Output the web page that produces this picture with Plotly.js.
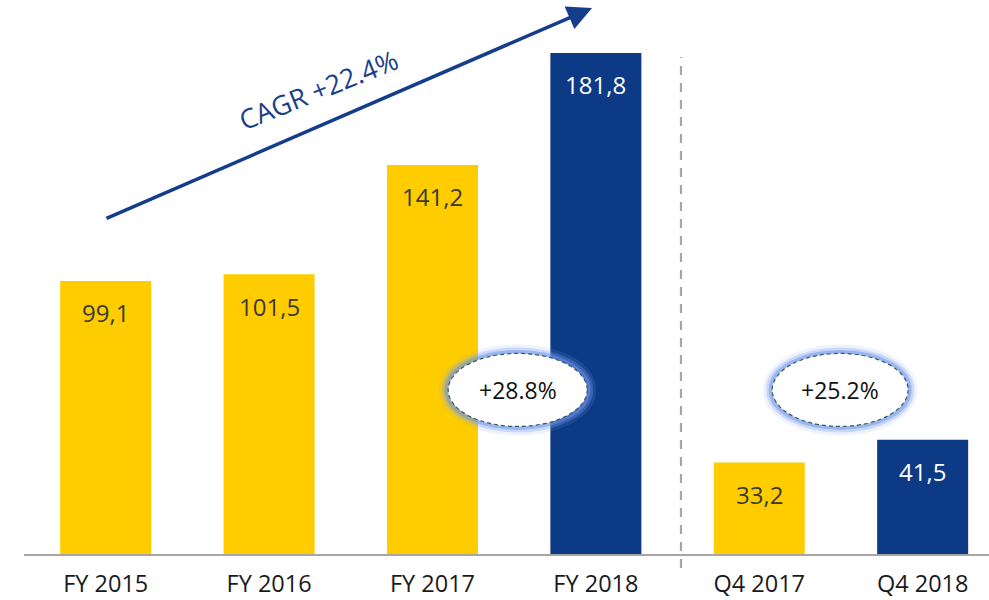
<!DOCTYPE html>
<html><head><meta charset="utf-8">
<script src="https://cdn.plot.ly/plotly-3.0.1.min.js"></script>
<style>html,body{margin:0;padding:0;background:#fff}#chart{width:989px;height:600px}</style>
</head><body><div id="chart"></div>
<script>
const categories = ["FY 2015","FY 2016","FY 2017","FY 2018","Q4 2017","Q4 2018"];
const values = [99.1, 101.5, 141.2, 181.8, 33.2, 41.5];
const valueLabels = ["99,1","101,5","141,2","181,8","33,2","41,5"];
const highlight = [false, false, false, true, false, true];
const growthLabels = ["+28.8%", "+25.2%"];
const cagrLabel = "CAGR +22.4%";

const YELLOW = "#FFCC00", BLUE = "#0D3A85";
const colors = highlight.map(h => h ? BLUE : YELLOW);
const xIdx = categories.map((c,i)=>i);

const trace = {
  type: "bar", x: xIdx, y: values, marker: {color: colors},
  width: 0.557, hoverinfo: "none", textposition: "none"
};

const annotations = values.map((v,i)=>({
  x: i, y: v, xref: "x", yref: "y", text: valueLabels[i], showarrow: false,
  xanchor: "center", yanchor: "middle", yshift: -32,
  font: {family: "Open Sans", size: 24, color: highlight[i] ? "#ffffff" : "#3a3a3a"}
}));

const ellipses = [{x0: 2.096, x1: 2.947, label: growthLabels[0]}, {x0: 4.079, x1: 4.911, label: growthLabels[1]}];
const ey0 = 46.3, ey1 = 72.8;
const shapes = [];
ellipses.forEach(e => {
  [[18,"rgba(130,165,240,0.14)"],[12,"rgba(120,155,238,0.3)"],[7,"rgba(105,145,235,0.5)"]].forEach(([w,c])=>{
    shapes.push({type:"circle", xref:"x", yref:"y", x0:e.x0, x1:e.x1, y0:ey0, y1:ey1, line:{color:c, width:w}, fillcolor:"rgba(0,0,0,0)"});
  });
  shapes.push({type:"circle", xref:"x", yref:"y", x0:e.x0, x1:e.x1, y0:ey0, y1:ey1, line:{color:"#3E5A50", width:1.2, dash:"4px,3px"}, fillcolor:"#ffffff"});
  annotations.push({x:(e.x0+e.x1)/2, y:(ey0+ey1)/2, xref:"x", yref:"y", text:e.label, showarrow:false,
    xanchor:"center", yanchor:"middle", font:{family:"Open Sans", size:23, color:"#111111"}});
});

shapes.push({type:"line", xref:"paper", yref:"paper", x0:0.6808, x1:0.6808, y0:-0.0257, y1:0.9136,
  line:{color:"#A6A6A6", width:2.2, dash:"9px,8px"}});

annotations.push({xref:"paper", yref:"paper", x:0.5886, y:1.0037, ax:-487, ay:211, axref:"pixel", ayref:"pixel",
  text:"", showarrow:true, arrowhead:2, arrowsize:1.4, arrowwidth:3.5, arrowcolor:"#143D8C", standoff:0, startstandoff:0});
annotations.push({xref:"paper", yref:"paper", x:(318-24)/965, y:(554-89)/544, xanchor:"center", yanchor:"middle",
  text:cagrLabel, showarrow:false, textangle:-22, font:{family:"Open Sans", size:27, color:"#1A3F8A"}});

const layout = {
  width: 989, height: 600,
  margin: {l:24, r:0, t:10, b:46},
  paper_bgcolor:"#fff", plot_bgcolor:"#fff",
  showlegend:false,
  xaxis: {range:[-0.5, 5.406], tickvals:xIdx, ticktext:categories, showgrid:false, zeroline:false,
    showline:true, linecolor:"#A6A6A6", linewidth:2, ticks:"outside", ticklen:8, tickcolor:"rgba(0,0,0,0)",
    tickfont:{family:"Open Sans", size:23.5, color:"#1a1a1a"}, fixedrange:true},
  yaxis: {range:[0, 197.4], visible:false, showgrid:false, zeroline:false, fixedrange:true},
  shapes: shapes, annotations: annotations
};
Plotly.newPlot("chart", [trace], layout, {displayModeBar:false, staticPlot:true});
</script></body></html>
